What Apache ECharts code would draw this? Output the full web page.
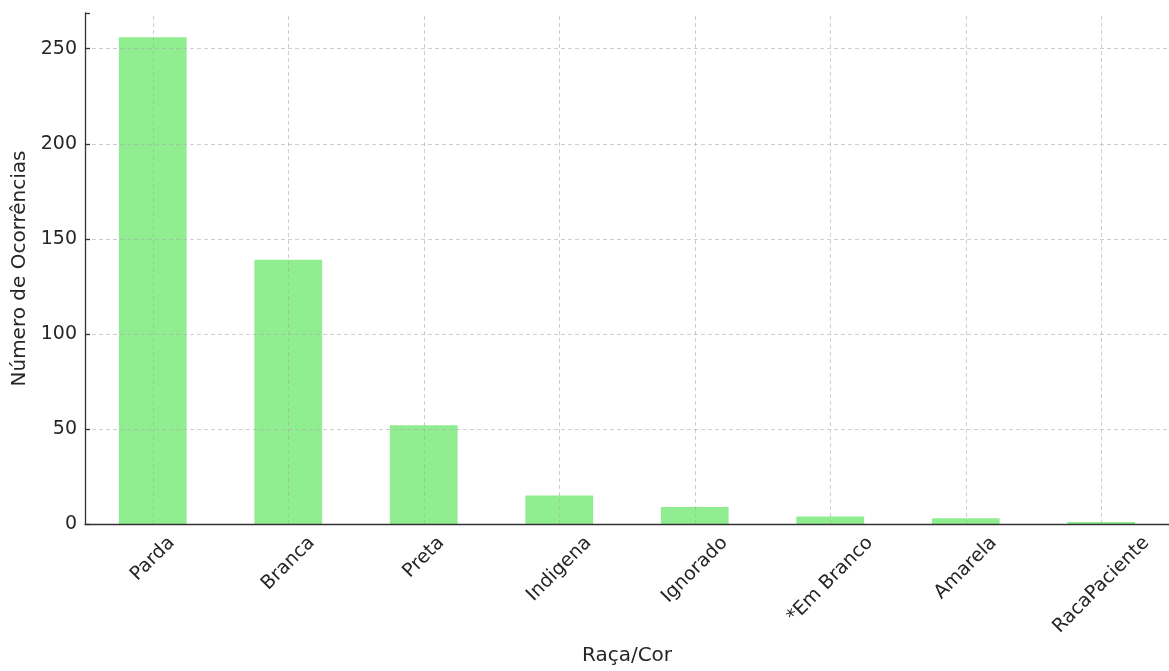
<!DOCTYPE html>
<html><head><meta charset="utf-8">
<script src="https://cdn.jsdelivr.net/npm/echarts@6/dist/echarts.min.js"></script>
<style>html,body{margin:0;padding:0;background:#fff}#c{width:1169px;height:671px}</style>
</head><body><div id="c"></div>
<script>
const categories = ['Parda','Branca','Preta','Indigena','Ignorado','*Em Branco','Amarela','RacaPaciente'];
const values = [256,139,52,15,9,4,3,1];
const yTicks = [0,50,100,150,200,250];

const font = 'DejaVu Sans';
const labelSize = 19;
const textColor = '#262626';

// per-label padding so that rotated labels are centred under their tick (like ha='center')
const cv = document.createElement('canvas').getContext('2d');
cv.font = labelSize + 'px "' + font + '"';
const rich = {};
categories.forEach((c, i) => {
  const w = cv.measureText(c).width;
  const D = 11 + (w + 14) * 0.3536;
  const s = D / Math.SQRT2;
  rich['l' + i] = {fontFamily:font, fontSize:labelSize, color:textColor,
    padding:[2 * s, 2 * s, 0, 0]};
});

const gridLineStyle = {type:[4,3], color:'rgba(170,170,170,0.55)', width:1};

const chart = echarts.init(document.getElementById('c'), null, {renderer:'canvas'});
chart.setOption({
  animation:false,
  grid:{left:85, top:13, width:1093, height:513, containLabel:false},
  xAxis:{
    type:'category', data:categories, boundaryGap:true, z:5,
    name:'Raça/Cor', nameLocation:'middle', nameGap:122,
    nameTextStyle:{fontFamily:font, fontSize:20, color:textColor},
    axisLine:{lineStyle:{color:'#333', width:1.3}},
    axisTick:{alignWithLabel:true, inside:true, length:6, lineStyle:{color:'#333', width:1.3}},
    axisLabel:{rotate:45, interval:0, align:'center', verticalAlign:'middle', margin:0,
      fontFamily:font, fontSize:labelSize, color:textColor,
      formatter:(v, i) => '{l' + i + '|' + v + '}', rich:rich},
    splitLine:{show:false}
  },
  yAxis:{
    type:'value', min:0, max:268.8, interval:50, z:5,
    name:'Número de Ocorrências', nameLocation:'middle', nameGap:52,
    nameTextStyle:{fontFamily:font, fontSize:20, color:textColor},
    axisLine:{show:true, lineStyle:{color:'#333', width:1.3}},
    axisTick:{show:true, inside:true, length:5, lineStyle:{color:'#333', width:1.3}},
    axisLabel:{fontFamily:font, fontSize:19, color:textColor, margin:8,
      formatter:v => yTicks.includes(v) ? String(v) : ''},
    splitLine:{show:false}
  },
  series:[{type:'bar', data:values, barWidth:'50%', itemStyle:{color:'#90EE90'},
    markLine:{silent:true, symbol:['none','none'], label:{show:false},
      lineStyle:gridLineStyle, animation:false,
      data: categories.map(c => ({xAxis:c})).concat(yTicks.map(t => ({yAxis:t})))}
  }]
});
</script></body></html>
